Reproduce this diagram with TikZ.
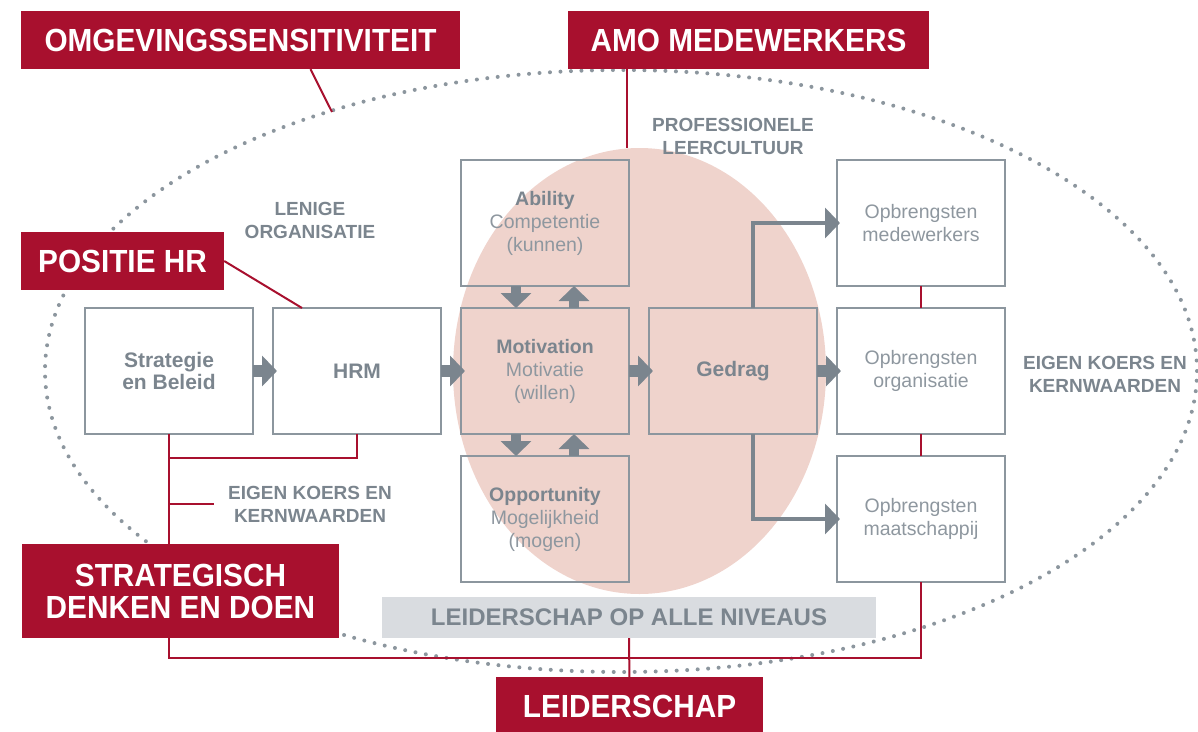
\documentclass[tikz,border=0pt]{standalone}
\usepackage{fontspec}
\setmainfont{Liberation Sans}
\newfontfamily\tagfont[FakeStretch=0.93]{Liberation Sans}
\usepackage{xcolor}
\usepackage{tikz}
\usetikzlibrary{shapes.geometric, arrows.meta, positioning, calc}

\definecolor{hrred}{HTML}{A8102E}
\definecolor{hrgray}{HTML}{7B858E}
\definecolor{hrsoft}{HTML}{8E979F}
\definecolor{hrline}{HTML}{8C969E}
\definecolor{hrpink}{HTML}{EFD3CC}
\definecolor{hrpale}{HTML}{D9DCE0}

\begin{document}
\begin{tikzpicture}[
    x=1pt, y=-1pt,
    node distance=22pt and 20pt,
    box/.style={rectangle, draw=hrline, line width=1.3pt, outer sep=0pt, minimum width=168pt, minimum height=126pt, inner sep=0pt, align=center, text=hrsoft, font=\fontsize{19.5}{23}\selectfont},
    boldbox/.style={box, text=hrgray, font=\bfseries\fontsize{21}{22}\selectfont},
    tag/.style={rectangle, fill=hrred, text=white, inner sep=0pt, align=center, font=\tagfont\bfseries\fontsize{32}{32}\selectfont},
    note/.style={inner sep=0pt, align=center, text=hrgray, font=\bfseries\fontsize{19}{23}\selectfont},
    blockarrow/.style={draw=hrgray, line width=#1, -{Triangle[length=15pt, width=30pt]}},
    blockarrow/.default=12pt,
    redline/.style={draw=hrred, line width=2pt}
]
\useasboundingbox (0,0) rectangle (1198,731);

% Outer ring and AMO cloud
\draw[hrline, line width=4pt, line cap=round, dash pattern=on 0pt off 10.5pt] (621,371) ellipse [x radius=576pt, y radius=301pt];
\node[ellipse, fill=hrpink, minimum width=373pt, minimum height=446pt] (cloud) at (639.5,371) {};

% Boxes in a row
\node[boldbox] (strat) at (169,371) {Strategie\\en Beleid};
\node[boldbox, right=of strat] (hrm) {HRM};
\node[box, right=of hrm] (motiv) {\textcolor{hrgray}{\bfseries Motivation}\\Motivatie\\(willen)};
\node[box, above=of motiv] (ability) {\textcolor{hrgray}{\bfseries Ability}\\Competentie\\(kunnen)};
\node[box, below=of motiv] (oppo) {\textcolor{hrgray}{\bfseries Opportunity}\\Mogelijkheid\\(mogen)};
\node[boldbox, right=of motiv] (gedrag) {Gedrag};
\node[box, right=of gedrag] (org) {Opbrengsten\\organisatie};
\node[box, above=of org] (mede) {Opbrengsten\\medewerkers};
\node[box, below=of org] (maat) {Opbrengsten\\maatschappij};

% Grey labels
\node[note] (lenige) at (310,220.5) {LENIGE\\ORGANISATIE};
\node[note] (leercult) at (733,136.5) {PROFESSIONELE\\LEERCULTUUR};
\node[note] (koersl) at (310,504) {EIGEN KOERS EN\\KERNWAARDEN};
\node[note] (koersr) at (1105,374) {EIGEN KOERS EN\\KERNWAARDEN};
\node[note, fill=hrpale, minimum width=494pt, minimum height=41pt, font=\bfseries\fontsize{24}{24}\selectfont] (lop) at (629,617.5) {LEIDERSCHAP OP ALLE NIVEAUS};

% Red tags
\node[tag, minimum width=439pt, minimum height=58pt] (omg) at (240.5,40) {OMGEVINGSSENSITIVITEIT};
\node[tag, minimum width=361pt, minimum height=58pt] (amo) at (748.5,40) {AMO MEDEWERKERS};
\node[tag, minimum width=203pt, minimum height=58pt] (poshr) at (122.5,261) {POSITIE HR};
\node[tag, minimum width=317pt, minimum height=94pt] (strdenk) at (180.5,591) {STRATEGISCH\\DENKEN EN DOEN};
\node[tag, minimum width=267pt, minimum height=58pt] (leid) at (629.5,706) {LEIDERSCHAP};

% Arrows
\draw[blockarrow, shorten >=-4pt] (strat) -- (hrm);
\draw[blockarrow, shorten >=-4pt] (hrm) -- (motiv);
\draw[blockarrow, shorten >=-4pt] (motiv) -- (gedrag);
\draw[blockarrow, shorten >=-4pt] (gedrag) -- (org);
\draw[blockarrow=10pt] ([xshift=-29pt]ability.south) -- ([xshift=-29pt]motiv.north);
\draw[blockarrow=10pt] ([xshift=29pt]motiv.north) -- ([xshift=29pt]ability.south);
\draw[blockarrow=10pt] ([xshift=-29pt]motiv.south) -- ([xshift=-29pt]oppo.north);
\draw[blockarrow=10pt] ([xshift=29pt]oppo.north) -- ([xshift=29pt]motiv.south);
\draw[blockarrow=4pt, shorten >=-3pt] ([xshift=20pt]gedrag.north) |- (mede.west);
\draw[blockarrow=4pt, shorten >=-3pt] ([xshift=20pt]gedrag.south) |- (maat.west);

% Red lines
\coordinate (omgend) at (332,112);
\coordinate (rail) at (629,658);
\draw[redline] ([xshift=70pt]omg.south) -- (omgend);
\draw[redline] ([xshift=-122pt]amo.south) -- ([xshift=-122pt]amo.south |- cloud.north);
\draw[redline] (poshr.east) -- ([xshift=-55pt]hrm.north);
\draw[redline] (strat.south) -- (strat.south |- strdenk.north);
\draw[redline] (strat.south |- strdenk.south) |- (rail) -| (maat.south);
\draw[redline] (hrm.south) |- ([yshift=-24pt]strat.south);
\draw[redline] (koersl.west -| strat.south) -- ([xshift=-14pt]koersl.west);
\draw[redline] (mede) -- (org);
\draw[redline] (org) -- (maat);
\draw[redline] (lop) -- (leid);
\end{tikzpicture}
\end{document}
